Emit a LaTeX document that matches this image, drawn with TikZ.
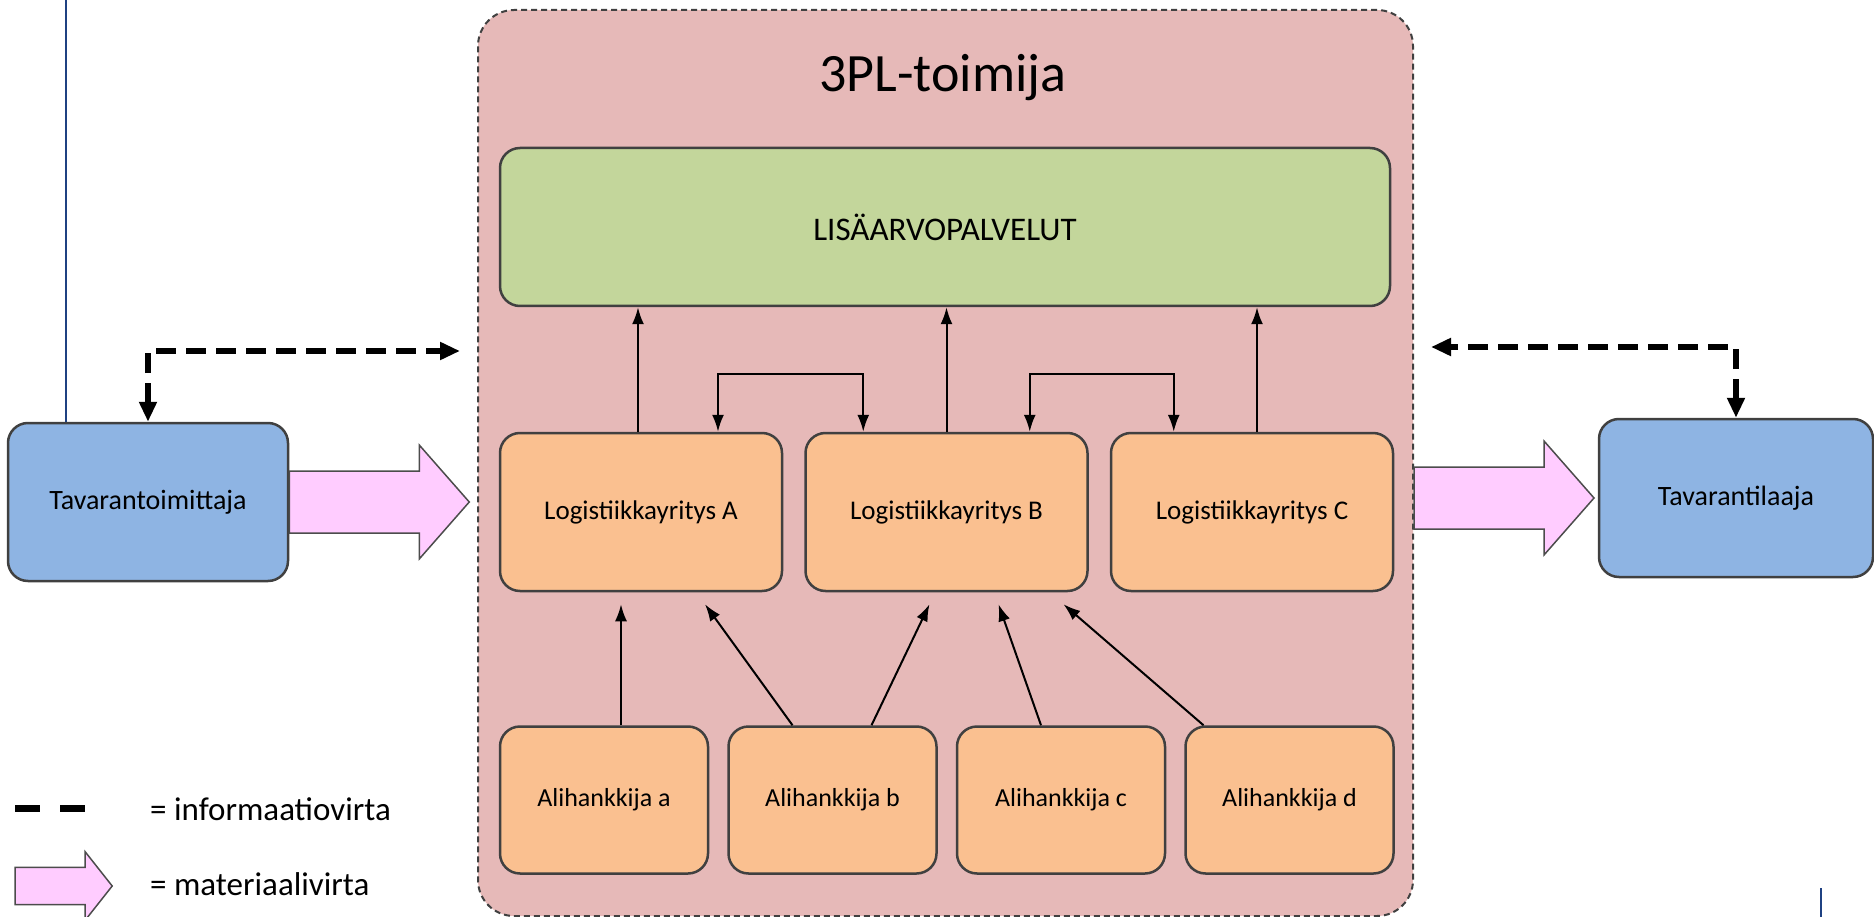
\documentclass[tikz,border=0pt]{standalone}
\usepackage{fontspec}
\setmainfont{Carlito}
\usetikzlibrary{positioning, arrows.meta}
\definecolor{tplred}{HTML}{E6B9B8}
\definecolor{lisagreen}{HTML}{C3D69B}
\definecolor{logorange}{HTML}{FAC090}
\definecolor{endblue}{HTML}{8EB4E3}
\definecolor{matpink}{HTML}{FFCCFF}
\definecolor{navyline}{HTML}{1F4182}
\tikzset{
>={Latex[length=17pt,width=12pt]}, % filled arrow heads
box/.style={draw=black!75, line width=2.5pt, rounded corners=20pt, inner sep=0pt}, % every rounded box
logbox/.style={box, fill=logorange, minimum width=282pt, minimum height=158pt, font=\fontsize{27}{32}\selectfont},
alibox/.style={box, fill=logorange, minimum width=208pt, minimum height=147pt, font=\fontsize{26}{30}\selectfont},
endbox/.style={box, fill=endblue, minimum height=158pt, font=\fontsize{28}{32}\selectfont},
flow/.style={line width=2pt, every edge/.append style={->}}, % solid connectors
info/.style={<->, line width=5.5pt, dash pattern=on 20pt off 10pt, >={Triangle[length=20pt,width=17pt]}}, % information flow
matarrow/.pic={ % material flow arrow
  \filldraw[fill=matpink, draw=black!70, line width=1.5pt, line join=miter]
    (0,-31) -- (130,-31) -- (130,-57) -- (180,0) -- (130,57) -- (130,31) -- (0,31) -- cycle;
},
}
\begin{document}
\begin{tikzpicture}[x=1pt, y=-1pt]
\useasboundingbox (0,0) rectangle (1874,917);

% 3PL container
\node[draw=black!75, fill=tplred, line width=2pt, dash pattern=on 6pt off 4pt, rounded corners=36pt,
      minimum width=935pt, minimum height=906pt] (tpl) at (945.5,463) {};
\node[anchor=base, font=\fontsize{54}{60}\selectfont] (title) at (943,92) {3PL-toimija};
\node[box, fill=lisagreen, minimum width=890pt, minimum height=158pt, font=\fontsize{33}{38}\selectfont] (lisa) at (945,227) {LISÄARVOPALVELUT};

\node[logbox] (logA) at (641,512) {Logistiikkayritys A};
\node[logbox, right=21pt of logA] (logB) {Logistiikkayritys B};
\node[logbox, right=21pt of logB] (logC) {Logistiikkayritys C};

\node[alibox] (alia) at (604,800) {Alihankkija a};
\node[alibox, right=18pt of alia] (alib) {Alihankkija b};
\node[alibox, right=18pt of alib] (alic) {Alihankkija c};
\node[alibox, right=18pt of alic] (alid) {Alihankkija d};

% supplier and customer
\node[endbox, minimum width=280pt] (toim) at (148,502) {Tavarantoimittaja};
\node[endbox, minimum width=274pt] (tilaaja) at (1736,498) {Tavarantilaaja};

\pic at (toim.east) {matarrow};
\pic at (tpl.east |- tilaaja.west) {matarrow};

\coordinate (infoL) at (460,351);
\coordinate (infoR) at (1431,347);
\draw[info] (toim.north) |- (infoL);
\draw[info] (tilaaja.north) |- (infoR);

\draw[flow]
  ([xshift=-3pt]logA.north) edge ([xshift=-3pt]logA.north |- lisa.south)
  (logB.north) edge (logB.north |- lisa.south)
  ([xshift=5pt]logC.north) edge ([xshift=5pt]logC.north |- lisa.south)
  ([xshift=17pt]alia.north) edge ([shift={(-20,12)}]logA.south)
  ([xshift=-40pt]alib.north) edge ([shift={(64,12)}]logA.south)
  ([xshift=39pt]alib.north) edge ([shift={(-17,12)}]logB.south)
  ([xshift=-20pt]alic.north) edge ([shift={(52,12)}]logB.south)
  ([xshift=-86pt]alid.north) edge ([shift={(117,12)}]logB.south)
  ;

\coordinate (ab) at (790,374);
\coordinate (bc) at (1098,374);
\draw[flow, <->] ([xshift=77pt]logA.north) |- (ab) -| ([xshift=59pt]logB.north west);
\draw[flow, <->] ([xshift=-59pt]logB.north east) |- (bc) -| ([xshift=64pt]logC.north west);

% blue edge lines
\coordinate (lineL) at (66,0);
\draw[navyline, line width=2pt] (lineL) -- (lineL |- toim.north);
\coordinate (lineR) at (1821,888);
\draw[navyline, line width=2.5pt] (lineR) -- (1821,917);

% legend
\draw[line width=7pt, dash pattern=on 25pt off 20pt] (15,808) -- (86,808);
\pic[xscale=0.54, yscale=0.6] at (15,886) {matarrow};
\node[anchor=west, inner sep=0pt, font=\fontsize{33}{38}\selectfont] (legInfo) at (150,809) {= informaatiovirta};
\node[anchor=west, inner sep=0pt, font=\fontsize{33}{38}\selectfont] (legMat) at (150,884) {= materiaalivirta};
\end{tikzpicture}
\end{document}
